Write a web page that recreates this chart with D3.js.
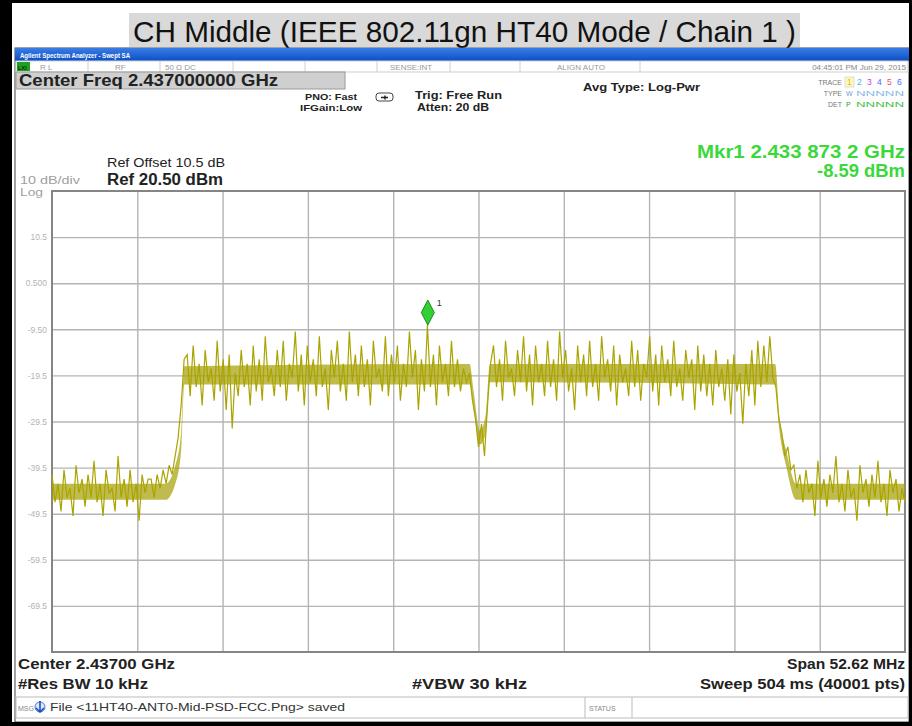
<!DOCTYPE html>
<html>
<head>
<meta charset="utf-8">
<script src="https://cdn.jsdelivr.net/npm/d3@7"></script>
<style>
  body { margin: 0; background: #fff; }
  svg text { font-family: "Liberation Sans", Arial, sans-serif; }
</style>
</head>
<body>
<svg id="chart" width="912" height="726"></svg>
<script>
const title = 'CH Middle (IEEE 802.11gn HT40 Mode / Chain 1 )';
const centerGHz = 2.437;
const spanMHz = 52.62;
const refLevel = 20.5;
const dbPerDiv = 10;
const yTickLabels = ['10.5', '0.500', '-9.50', '-19.5', '-29.5', '-39.5', '-49.5', '-59.5', '-69.5'];
const marker = { freqGHz: 2.4338732, level: -8.59 };

// trace, evenly spaced across the span (dBm)
const traceLevels = [
  // left noise floor
  -41, -47, -43, -49, -40, -46, -44, -50, -39, -45, -42, -48, -41, -46, -38, -47, -43,
  -50, -40, -45, -44, -49, -37, -46, -42, -48, -40, -47, -43, -51, -41, -45, -42,
  // shoulder + rising edge
  -42, -46, -41, -44, -40, -43, -39, -41, -37, -33, -26, -16,
  // lower half of channel
  -15, -24, -13, -22, -17, -26, -14, -21, -18, -25,
  -12, -23, -16, -27, -15, -31, -19, -24, -14, -22,
  -17, -26, -13, -23, -16, -25, -11, -21, -18, -24,
  -14, -22, -12, -25, -17, -20, -10, -23, -15, -26,
  -13, -21, -16, -24, -11, -22, -18, -27, -14, -20,
  -12, -23, -17, -25, -10, -21, -15, -24, -13, -22,
  -16, -26, -12, -20, -18, -23, -11, -24, -15, -21,
  -13, -25, -17, -22, -10, -20, -14, -27, -16, -23,
  -8.59,
  -22, -15, -26, -13, -21, -17, -24, -12, -22, -16, -23, -18, -21,
  // center notch
  -19, -25, -29, -35, -30, -37, -26, -17,
  // upper half of channel
  -13, -22, -16, -25, -12, -20, -18, -24, -14, -21,
  -11, -23, -15, -26, -13, -21, -17, -24, -12, -22,
  -16, -25, -10, -20, -14, -23, -18, -27, -13, -21,
  -15, -24, -12, -22, -17, -25, -11, -20, -16, -23,
  -13, -26, -15, -21, -18, -24, -12, -22, -14, -25,
  -17, -20, -11, -23, -15, -26, -13, -21, -16, -24,
  -12, -22, -18, -25, -14, -20, -16, -27, -13, -23,
  -15, -24, -17, -26, -14, -22, -18, -25, -16, -28,
  -15, -23, -19, -30, -17, -24, -14, -26, -12, -22,
  -13, -21, -11, -20,
  // falling edge
  -22, -29, -32, -37, -35, -40, -39, -44,
  // right noise floor
  -41, -47, -40, -45, -43, -50, -38, -46, -42, -48, -41, -45, -37, -47, -43, -49, -40, -46,
  -44, -51, -39, -45, -42, -48, -41, -46, -38, -47, -43, -50, -40, -45, -42, -49, -44, -47
];

// densest middle of the noisy trace: [offset from center MHz, upper dBm, lower dBm]
const coreBand = [
  [-26.31, -43, -46.5], [-19.3, -43, -46.5], [-18.7, -39, -43], [-18.35, -32, -36],
  [-18.15, -17.5, -21.5], [-0.55, -17, -21.5], [-0.3, -23, -26.5], [0.1, -31.5, -34.5],
  [0.45, -28, -32], [0.7, -17, -21], [18.3, -17, -21.5], [18.55, -28, -31],
  [19.0, -36, -39.5], [19.6, -43, -46.5], [26.31, -43, -46.5]
];

const traceNums = ['1', '2', '3', '4', '5', '6'];
const traceNumColors = ['#e0c000', '#40b8ff', '#d040d0', '#6060ff', '#f05060', '#4070ff'];

const svg = d3.select('#chart');
const plot = { left: 52, right: 905, top: 191, bottom: 652 };

function label(x, y, size, t, len, opts = {}) {
  const el = svg.append('text').attr('x', x).attr('y', y).attr('font-size', size)
    .attr('fill', opts.fill || '#222').attr('font-weight', opts.weight || 'bold').text(t);
  if (len) el.attr('textLength', len).attr('lengthAdjust', 'spacingAndGlyphs');
  if (opts.anchor) el.attr('text-anchor', opts.anchor);
  return el;
}

// ---------- outer frame + title ----------
svg.append('rect').attr('width', 912).attr('height', 726).attr('fill', '#fff');
svg.append('rect').attr('x', 129).attr('y', 13).attr('width', 671).attr('height', 34).attr('fill', '#d9d9d9');
label(133, 42, 30, title, 663, { fill: '#111', weight: 'normal' });

// analyzer screen
svg.append('rect').attr('x', 15).attr('y', 48).attr('width', 894).attr('height', 674)
  .attr('fill', '#fff').attr('stroke', '#444').attr('stroke-width', 1);

const defs = svg.append('defs');
const grad = defs.append('linearGradient').attr('id', 'bar')
  .attr('x1', 0).attr('x2', 0).attr('y1', 0).attr('y2', 1);
grad.append('stop').attr('offset', 0).attr('stop-color', '#3a7de6');
grad.append('stop').attr('offset', 1).attr('stop-color', '#0b4fc6');
svg.append('rect').attr('x', 15).attr('y', 48).attr('width', 894).attr('height', 13).attr('fill', 'url(#bar)');
label(20, 58, 8, 'Agilent Spectrum Analyzer - Swept SA', 110, { fill: '#fff' });

// status row
const statusRow = svg.append('g');
statusRow.append('rect').attr('x', 16).attr('y', 61).attr('width', 892).attr('height', 11)
  .attr('fill', '#fff').attr('stroke', '#cfcfcf');
[88, 160, 233, 305, 377, 450, 520, 640].forEach(x => {
  statusRow.append('line').attr('x1', x).attr('x2', x).attr('y1', 61).attr('y2', 72).attr('stroke', '#cfcfcf');
});
statusRow.append('rect').attr('x', 17).attr('y', 62).attr('width', 13).attr('height', 9).attr('fill', '#20a020');
statusRow.append('text').attr('x', 18).attr('y', 69.5).attr('font-size', 6).attr('fill', '#000').text('LXI');
const statusTexts = [[40, 'R L'], [115, 'RF'], [165, '50 \u03a9   DC'], [390, 'SENSE:INT'], [557, 'ALIGN AUTO']];
statusTexts.forEach(([x, t]) => {
  statusRow.append('text').attr('x', x).attr('y', 69.5).attr('font-size', 8).attr('fill', '#999').text(t);
});
statusRow.append('text').attr('x', 906).attr('y', 69.5).attr('font-size', 8).attr('text-anchor', 'end')
  .attr('fill', '#888').text('04:45:01 PM Jun 29, 2015');

// center freq box
svg.append('rect').attr('x', 16).attr('y', 72).attr('width', 329).attr('height', 17)
  .attr('fill', '#cfcfcf').attr('stroke', '#9a9a9a');
label(19, 86, 16.5, 'Center Freq 2.437000000 GHz', 259);

label(305, 100, 9.5, 'PNO: Fast', 52);
label(300, 111, 9.5, 'IFGain:Low', 62);
svg.append('rect').attr('x', 376).attr('y', 93).attr('width', 17).attr('height', 8).attr('rx', 3)
  .attr('fill', 'none').attr('stroke', '#444');
svg.append('path').attr('d', 'M381,97.5 L388,97.5 M385,95.5 L385,99.5').attr('stroke', '#222').attr('stroke-width', 1.5);
label(415, 99, 10.5, 'Trig: Free Run', 87);
label(417, 111, 10.5, 'Atten: 20 dB', 72);
label(583, 91, 11, 'Avg Type: Log-Pwr', 117);

// trace legend
label(842, 85, 7, 'TRACE', null, { fill: '#777', weight: 'normal', anchor: 'end' });
label(842, 96, 7, 'TYPE', null, { fill: '#777', weight: 'normal', anchor: 'end' });
label(842, 107, 7, 'DET', null, { fill: '#777', weight: 'normal', anchor: 'end' });
svg.append('rect').attr('x', 845).attr('y', 77).attr('width', 9).attr('height', 10).attr('fill', '#fff6c0').attr('stroke', '#ddd');
traceNums.forEach((n, i) => {
  label(847 + i * 10, 85, 8.5, n, null, { fill: traceNumColors[i], weight: 'normal' });
});
label(846, 96, 7, 'W', null, { fill: '#6aa0d8', weight: 'normal' });
label(856, 96, 7, 'NNNNN', 48, { fill: '#8ab8e8', weight: 'normal' });
label(846, 107, 7, 'P', null, { fill: '#2a9a2a', weight: 'normal' });
label(856, 107, 7, 'NNNNN', 48, { fill: '#40c040', weight: 'normal' });

// marker readout and reference
label(697, 158, 19, 'Mkr1 2.433 873 2 GHz', 208, { fill: '#3ad83a' });
label(817, 177, 19, '-8.59 dBm', 88, { fill: '#3ad83a' });
label(107, 167, 13, 'Ref Offset 10.5 dB', 118, { weight: 'normal' });
label(107, 185, 16, 'Ref 20.50 dBm', 116);
label(20, 184, 11, '10 dB/div', 60, { fill: '#a0a0a0', weight: 'normal' });
label(20, 196, 11, 'Log', 23, { fill: '#a0a0a0', weight: 'normal' });

// ---------- scales + grid ----------
const halfSpanGHz = spanMHz / 2000;
const x = d3.scaleLinear().domain([centerGHz - halfSpanGHz, centerGHz + halfSpanGHz]).range([plot.left, plot.right]);
const y = d3.scaleLinear().domain([refLevel - 10 * dbPerDiv, refLevel]).range([plot.bottom, plot.top]);

const xGrid = d3.range(1, 10).map(k => x.domain()[0] + k * spanMHz / 10000);
const yGrid = yTickLabels.map((_, k) => refLevel - (k + 1) * dbPerDiv);

const gx = svg.append('g').attr('transform', `translate(0,${plot.bottom})`)
  .call(d3.axisBottom(x).tickValues(xGrid).tickSize(-(plot.bottom - plot.top)).tickFormat(''));
const gy = svg.append('g').attr('transform', `translate(${plot.left},0)`)
  .call(d3.axisLeft(y).tickValues(yGrid).tickSize(-(plot.right - plot.left)).tickPadding(5)
    .tickFormat((d, i) => yTickLabels[i]));
[gx, gy].forEach(g => {
  g.select('.domain').remove();
  g.selectAll('.tick line').attr('stroke', '#b4b4b4').attr('stroke-width', 1.4);
});
gy.selectAll('.tick text').attr('fill', '#b4b4b4').attr('font-size', 8.5)
  .attr('font-family', '"Liberation Sans", Arial, sans-serif');

svg.append('rect').attr('x', plot.left).attr('y', plot.top)
  .attr('width', plot.right - plot.left).attr('height', plot.bottom - plot.top)
  .attr('fill', 'none').attr('stroke', '#858585').attr('stroke-width', 2);

// ---------- trace ----------
const traceColor = '#aaa400';
const core = d3.area()
  .x(d => x(centerGHz + d[0] / 1000))
  .y0(d => y(d[2]))
  .y1(d => y(d[1]))
  .curve(d3.curveMonotoneX);
svg.append('path').attr('d', core(coreBand)).attr('fill', '#a49e00').attr('opacity', 0.7);

const binGHz = (2 * halfSpanGHz) / (traceLevels.length - 1);
const line = d3.line()
  .x((d, i) => x(x.domain()[0] + i * binGHz))
  .y(d => y(d));
svg.append('path').attr('d', line(traceLevels))
  .attr('fill', 'none').attr('stroke', traceColor).attr('stroke-width', 1.2);

// marker
const mx = x(marker.freqGHz), my = y(marker.level);
svg.append('path')
  .attr('d', `M${mx},${my} L${mx - 6.5},${my - 12.5} L${mx},${my - 25} L${mx + 6.5},${my - 12.5} Z`)
  .attr('fill', '#33d033').attr('stroke', '#1c8c1c').attr('stroke-width', 1);
svg.append('text').attr('x', mx + 9).attr('y', my - 19).attr('font-size', 9).attr('fill', '#333').text('1');

// ---------- bottom annotations ----------
label(18, 669, 15, 'Center 2.43700 GHz', 157);
label(18, 689, 15, '#Res BW 10 kHz', 130);
label(412, 689, 15, '#VBW 30 kHz', 115);
label(787, 669, 15, 'Span 52.62 MHz', 118);
label(700, 689, 15, 'Sweep  504 ms (40001 pts)', 205);

svg.append('rect').attr('x', 16).attr('y', 697).attr('width', 892).attr('height', 21)
  .attr('fill', '#fff').attr('stroke', '#bbb');
svg.append('line').attr('x1', 585).attr('x2', 585).attr('y1', 697).attr('y2', 718).attr('stroke', '#bbb');
svg.append('line').attr('x1', 632).attr('x2', 632).attr('y1', 697).attr('y2', 718).attr('stroke', '#bbb');
label(18, 711, 7, 'MSG', null, { fill: '#888', weight: 'normal' });
svg.append('circle').attr('cx', 40).attr('cy', 707).attr('r', 5).attr('fill', '#d8e8ff').attr('stroke', '#4a7ad0');
svg.append('path').attr('d', 'M40,701 L40,712 M36,708 L40,712 L44,708').attr('stroke', '#1a4ab8')
  .attr('stroke-width', 1.5).attr('fill', 'none');
label(50, 711, 11.5, 'File <11HT40-ANT0-Mid-PSD-FCC.Png> saved', 295, { fill: '#333', weight: 'normal' });
label(589, 711, 7, 'STATUS', null, { fill: '#888', weight: 'normal' });

// black page borders
svg.append('rect').attr('x', 0).attr('y', 0).attr('width', 12).attr('height', 726).attr('fill', '#000');
svg.append('rect').attr('x', 0).attr('y', 0).attr('width', 912).attr('height', 3).attr('fill', '#000');
svg.append('rect').attr('x', 909).attr('y', 0).attr('width', 3).attr('height', 726).attr('fill', '#000');
svg.append('rect').attr('x', 0).attr('y', 722).attr('width', 912).attr('height', 4).attr('fill', '#000');
</script>
</body>
</html>
